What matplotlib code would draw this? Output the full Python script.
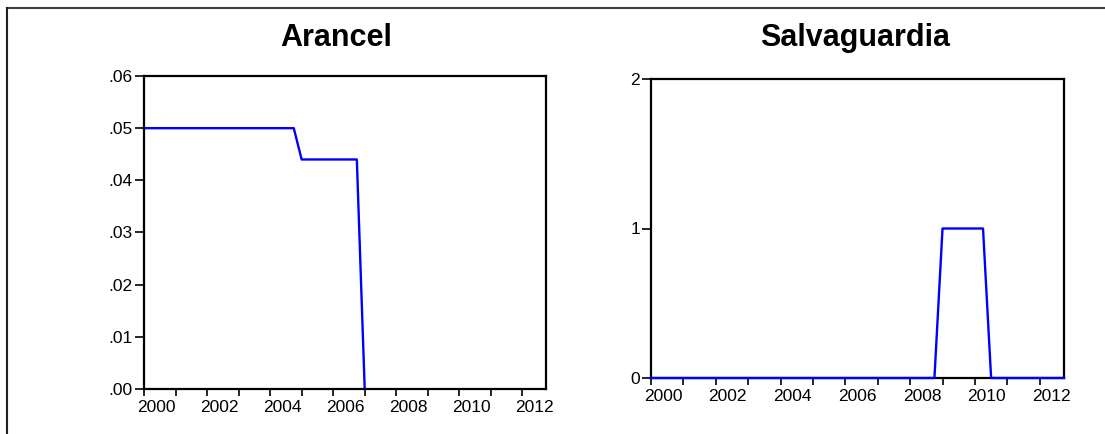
import numpy as np
import matplotlib
matplotlib.use("Agg")
import matplotlib.pyplot as plt
from matplotlib.lines import Line2D
from matplotlib.ticker import FuncFormatter, MultipleLocator
from matplotlib.transforms import ScaledTranslation

plt.rcParams['font.family'] = ['Liberation Sans', 'DejaVu Sans']

# quarterly data, 2000Q1 .. 2012Q4
start_year = 2000
n_quarters = 52
nan = np.nan
arancel = [
    0.05, 0.05, 0.05, 0.05,    # 2000
    0.05, 0.05, 0.05, 0.05,    # 2001
    0.05, 0.05, 0.05, 0.05,    # 2002
    0.05, 0.05, 0.05, 0.05,    # 2003
    0.05, 0.05, 0.05, 0.05,    # 2004
    0.044, 0.044, 0.044, 0.044,  # 2005
    0.044, 0.044, 0.044, 0.044,  # 2006
    0.0, nan, nan, nan,        # 2007
    nan, nan, nan, nan,        # 2008
    nan, nan, nan, nan,        # 2009
    nan, nan, nan, nan,        # 2010
    nan, nan, nan, nan,        # 2011
    nan, nan, nan, nan,        # 2012
]
salvaguardia = [
    0, 0, 0, 0,  # 2000
    0, 0, 0, 0,  # 2001
    0, 0, 0, 0,  # 2002
    0, 0, 0, 0,  # 2003
    0, 0, 0, 0,  # 2004
    0, 0, 0, 0,  # 2005
    0, 0, 0, 0,  # 2006
    0, 0, 0, 0,  # 2007
    0, 0, 0, 0,  # 2008
    1, 1, 1, 1,  # 2009
    1, 1, 0, 0,  # 2010
    0, 0, 0, 0,  # 2011
    0, 0, 0, 0,  # 2012
]
titles = ["Arancel", "Salvaguardia"]
year_labels = [2000, 2002, 2004, 2006, 2008, 2010, 2012]

t = start_year + np.arange(n_quarters) / 4.0

W, H = 1105, 434
fig = plt.figure(figsize=(W / 100, H / 100), dpi=100)

def box(x0, y0, x1, y1):
    # pixel box (top-left origin) -> figure fraction
    return [x0 / W, 1 - y1 / H, (x1 - x0) / W, (y1 - y0) / H]

ax1 = fig.add_axes(box(144, 76, 546, 389))
ax2 = fig.add_axes(box(651, 79, 1064, 378))

shift = ScaledTranslation(0.12, 0, fig.dpi_scale_trans)

def style(ax):
    for s in ax.spines.values():
        s.set_linewidth(1.6)
        s.set_color("black")
    ax.set_xlim(t[0], t[-1])
    ax.xaxis.set_major_locator(MultipleLocator(1))
    ax.xaxis.set_major_formatter(FuncFormatter(
        lambda v, p: str(int(round(v))) if int(round(v)) in year_labels else ""))
    ax.tick_params(axis="x", direction="out", length=5, width=1.2, labelsize=12.5, pad=3)
    ax.tick_params(axis="y", direction="out", length=6.5, width=1.2, labelsize=12.5, pad=1.5)
    for lab in ax.get_xticklabels():
        lab.set_transform(lab.get_transform() + shift)

ax1.plot(t, arancel, color="#0000ff", lw=1.7, clip_on=False)
ax1.set_ylim(0, 0.06)
ax1.set_yticks([0, 0.01, 0.02, 0.03, 0.04, 0.05, 0.06])
ax1.yaxis.set_major_formatter(FuncFormatter(lambda v, p: f"{v:.2f}".lstrip("0")))
style(ax1)

ax2.plot(t, salvaguardia, color="#0000ff", lw=1.7, clip_on=False, zorder=3)
ax2.set_ylim(0, 2)
ax2.set_yticks([0, 1, 2])
style(ax2)

fig.text(336 / W, 1 - 38 / H, titles[0], ha="center", va="center",
         fontsize=22, fontweight="bold")
fig.text(855 / W, 1 - 38 / H, titles[1], ha="center", va="center",
         fontsize=22, fontweight="bold")

# outer frame (top and left edges)
fig.add_artist(Line2D([7 / W, 1], [1 - 8 / H, 1 - 8 / H], color="#404040", lw=1.5))
fig.add_artist(Line2D([7 / W, 7 / W], [0, 1 - 8 / H], color="#202020", lw=1.5))

fig.savefig("out.png", dpi=100)
